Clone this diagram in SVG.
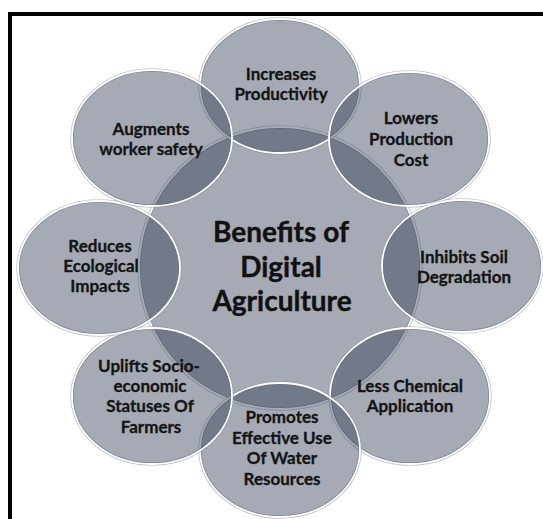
<svg xmlns="http://www.w3.org/2000/svg" width="543" height="519" viewBox="0 0 543 519">
  <style>
    .rim { fill: none; stroke: #8b909a; stroke-width: 3.5; stroke-opacity: 0.5; }
    .bubble { fill: rgb(47,57,81); fill-opacity: 0.43; stroke: #ffffff; stroke-width: 1.8; }
    .label { font-family: Lato, "Liberation Sans", sans-serif; font-weight: 700; font-size: 17px; fill: #141414; stroke: #141414; stroke-width: 0.3; text-anchor: middle; }
    .title { font-family: Lato, "Liberation Sans", sans-serif; font-weight: 700; font-size: 28px; fill: #111111; stroke: #111111; stroke-width: 0.4; text-anchor: middle; }
    .frame { fill: #000000; }
  </style>

  <rect x="0" y="0" width="543" height="519" fill="#ffffff"/>

  <!-- black frame: top and left edges -->
  <g id="frame">
    <rect class="frame" x="8" y="12" width="535" height="4"/>
    <rect class="frame" x="8" y="12" width="4" height="507"/>
  </g>

  <!-- hub -->
  <g id="hub">
    <ellipse class="rim" cx="280" cy="268" rx="141" ry="141"/>
    <ellipse class="bubble" cx="280" cy="268" rx="141" ry="141"/>
  </g>

  <!-- satellite bubbles around the hub -->
  <g id="increases-productivity">
    <ellipse class="rim" cx="280" cy="86" rx="80" ry="67"/>
    <ellipse class="bubble" cx="280" cy="86" rx="80" ry="67"/>
  </g>
  <g id="lowers-production-cost">
    <ellipse class="rim" cx="409" cy="139" rx="80" ry="67"/>
    <ellipse class="bubble" cx="409" cy="139" rx="80" ry="67"/>
  </g>
  <g id="inhibits-soil-degradation">
    <ellipse class="rim" cx="462" cy="266" rx="80" ry="66"/>
    <ellipse class="bubble" cx="462" cy="266" rx="80" ry="66"/>
  </g>
  <g id="less-chemical-application">
    <ellipse class="rim" cx="410" cy="396" rx="80" ry="68"/>
    <ellipse class="bubble" cx="410" cy="396" rx="80" ry="68"/>
  </g>
  <g id="promotes-water-use">
    <ellipse class="rim" cx="280" cy="450" rx="80" ry="67"/>
    <ellipse class="bubble" cx="280" cy="450" rx="80" ry="67"/>
  </g>
  <g id="uplifts-socio-economic">
    <ellipse class="rim" cx="152" cy="396" rx="80" ry="68"/>
    <ellipse class="bubble" cx="152" cy="396" rx="80" ry="68"/>
  </g>
  <g id="reduces-ecological-impacts">
    <ellipse class="rim" cx="99" cy="268" rx="81" ry="67"/>
    <ellipse class="bubble" cx="99" cy="268" rx="81" ry="67"/>
  </g>
  <g id="augments-worker-safety">
    <ellipse class="rim" cx="152" cy="138" rx="80" ry="68"/>
    <ellipse class="bubble" cx="152" cy="138" rx="80" ry="68"/>
  </g>

  <!-- labels -->
  <g id="labels">
    <text class="title" x="281" y="242">Benefits of</text>
    <text class="title" x="281" y="277">Digital</text>
    <text class="title" x="282" y="311">Agriculture</text>

    <text class="label" x="281" y="80">Increases</text>
    <text class="label" x="281" y="100">Productivity</text>

    <text class="label" x="411" y="124">Lowers</text>
    <text class="label" x="411" y="145">Production</text>
    <text class="label" x="411" y="166">Cost</text>

    <text class="label" x="464" y="263">Inhibits Soil</text>
    <text class="label" x="464" y="283">Degradation</text>

    <text class="label" x="410" y="392">Less Chemical</text>
    <text class="label" x="410" y="412">Application</text>

    <text class="label" x="282" y="423">Promotes</text>
    <text class="label" x="282" y="444">Effective Use</text>
    <text class="label" x="282" y="464">Of Water</text>
    <text class="label" x="282" y="485">Resources</text>

    <text class="label" x="149" y="372">Uplifts Socio-</text>
    <text class="label" x="150" y="392">economic</text>
    <text class="label" x="150" y="412">Statuses Of</text>
    <text class="label" x="151" y="433">Farmers</text>

    <text class="label" x="100" y="252">Reduces</text>
    <text class="label" x="101" y="272">Ecological</text>
    <text class="label" x="100" y="292">Impacts</text>

    <text class="label" x="151" y="135">Augments</text>
    <text class="label" x="151" y="155">worker safety</text>
  </g>
</svg>
